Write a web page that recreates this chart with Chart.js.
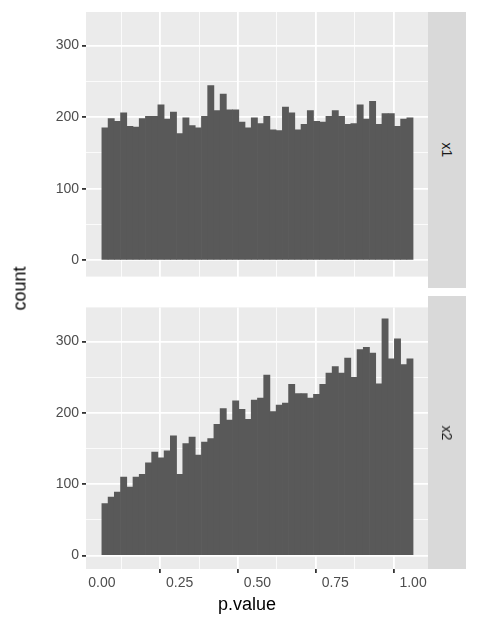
<!DOCTYPE html>
<html>
<head>
<meta charset="utf-8">
<script src="https://cdn.jsdelivr.net/npm/chart.js@4"></script>
<style>
  body { margin: 0; width: 480px; height: 640px; position: relative; background: #fff; font-family: "Liberation Sans", Arial, sans-serif; }
  .box { position: absolute; left: 0; width: 480px; }
  .strip { position: absolute; left: 428px; width: 38px; background: #d9d9d9; }
  .strip span { position: absolute; left: 50%; top: 50%; transform: translate(-50%, -50%) rotate(90deg); font-size: 14px; color: #1a1a1a; }
  .title { position: absolute; font-size: 18px; color: #000; }
</style>
</head>
<body>
<div class="box" style="top:0;height:288px"><canvas id="topChart"></canvas></div>
<div class="box" style="top:296px;height:344px"><canvas id="bottomChart"></canvas></div>
<div class="strip" style="top:12px;height:276px"><span>x1</span></div>
<div class="strip" style="top:296px;height:273px"><span>x2</span></div>
<div class="title" style="left:218px;top:594px">p.value</div>
<div class="title" style="left:-2px;top:278px;transform:rotate(-90deg)">count</div>
<script>
// bin centres (50 bins of width 0.02)
const binCenters = Array.from({length: 50}, (_, i) => 0.01 + i * 0.02);
const countsX1 = [185, 198, 194, 206, 187, 186, 198, 201, 201, 217,
                  197, 207, 177, 199, 188, 185, 201, 244, 209, 232,
                  210, 210, 193, 185, 199, 191, 201, 182, 181, 214,
                  206, 182, 190, 209, 194, 193, 201, 209, 201, 190,
                  191, 217, 197, 222, 190, 205, 205, 187, 197, 199];
const countsX2 = [73, 82, 89, 110, 96, 110, 114, 130, 145, 137,
                  147, 168, 114, 157, 166, 141, 159, 164, 184, 206,
                  190, 217, 205, 191, 218, 221, 253, 202, 211, 214,
                  240, 227, 227, 221, 226, 240, 256, 265, 256, 277,
                  250, 289, 292, 284, 241, 332, 276, 304, 268, 276];
const xTicks = [0, 0.25, 0.5, 0.75, 1];
const xMinor = [0.125, 0.375, 0.625, 0.875];
const yTicks = [0, 100, 200, 300];
const yMinor = [50, 150, 250];

const isMajor = (list, v) => v !== undefined && list.some(t => Math.abs(t - v) < 1e-9);
const tv = c => (c && c.tick) ? c.tick.value : undefined;

function makeChart(id, values, showX, yMin, yMax) {
  const ctx = document.getElementById(id).getContext('2d');
  return new Chart(ctx, {
    type: 'bar',
    data: {
      datasets: [{
        data: binCenters.map((c, i) => ({x: c, y: values[i]})),
        backgroundColor: '#595959',
        borderWidth: 0,
        barPercentage: 1,
        categoryPercentage: 1
      }]
    },
    options: {
      responsive: true,
      maintainAspectRatio: false,
      animation: false,
      layout: { padding: { top: showX ? 0 : 12, right: 52, left: 0, bottom: 0 } },
      plugins: { legend: { display: false }, tooltip: { enabled: false } },
      scales: {
        x: {
          type: 'linear',
          min: -0.051, max: 1.048,
          offset: false,
          afterBuildTicks: s => { s.ticks = xTicks.concat(xMinor).sort((a, b) => a - b).map(v => ({value: v})); },
          afterFit: s => { s.height = showX ? 71 : 0; },
          grid: {
            color: '#ffffff',
            lineWidth: c => isMajor(xTicks, tv(c)) ? 1.8 : 0.8,
            drawTicks: showX,
            tickLength: 4,
            tickColor: c => isMajor(xTicks, tv(c)) ? '#333333' : 'rgba(0,0,0,0)'
          },
          border: { display: false },
          ticks: {
            display: showX,
            autoSkip: false,
            maxRotation: 0,
            padding: 2,
            color: '#4d4d4d',
            font: { family: 'Liberation Sans', size: 14 },
            callback: v => isMajor(xTicks, v) ? v.toFixed(2) : ''
          }
        },
        y: {
          min: yMin, max: yMax,
          afterBuildTicks: s => { s.ticks = yTicks.concat(yMinor).sort((a, b) => a - b).map(v => ({value: v})); },
          afterFit: s => { s.width = 86; },
          grid: {
            color: '#ffffff',
            lineWidth: c => isMajor(yTicks, tv(c)) ? 1.8 : 0.8,
            tickLength: 4,
            tickColor: c => isMajor(yTicks, tv(c)) ? '#333333' : 'rgba(0,0,0,0)'
          },
          border: { display: false },
          ticks: {
            autoSkip: false,
            padding: 3,
            color: '#4d4d4d',
            font: { family: 'Liberation Sans', size: 14 },
            callback: v => isMajor(yTicks, v) ? String(v) : ''
          }
        }
      }
    },
    plugins: [{
      id: 'panelBg',
      beforeDraw: chart => {
        const a = chart.chartArea, c = chart.ctx;
        c.save();
        c.fillStyle = '#ebebeb';
        c.fillRect(a.left, a.top, a.right - a.left, a.bottom - a.top);
        c.restore();
      }
    }]
  });
}

makeChart('topChart', countsX1, false, -22.8, 346.7);
makeChart('bottomChart', countsX2, true, -18.8, 348);
</script>
</body>
</html>
